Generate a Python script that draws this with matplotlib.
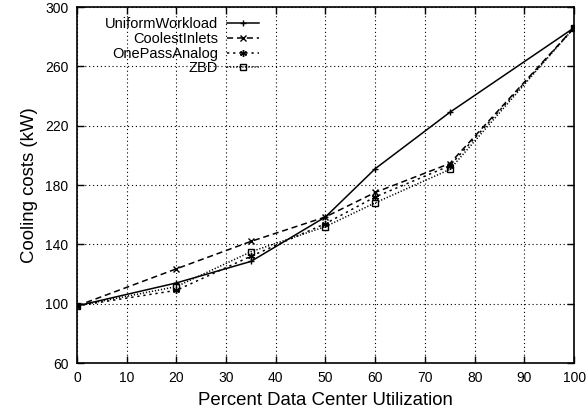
import numpy as np
import matplotlib
matplotlib.use('Agg')
import matplotlib.pyplot as plt

plt.rcParams['font.family'] = ['Liberation Sans', 'DejaVu Sans']
plt.rcParams['font.size'] = 10

# data
utilization = [0, 20, 35, 50, 60, 75, 100]
uniform_workload = [98.5, 114, 128.5, 158.5, 191, 229, 286]
coolest_inlets = [98.5, 123.5, 142, 158.5, 175, 194.5, 286]
one_pass_analog = [98.5, 109, 132, 154, 172, 193, 286]
zbd = [98.5, 111.5, 135, 152, 168, 190.5, 286]

series = [
    ('UniformWorkload', uniform_workload, '-', '+', 'full'),
    ('CoolestInlets', coolest_inlets, (0, (4, 2.5)), 'x', 'full'),
    ('OnePassAnalog', one_pass_analog, (0, (1.5, 2.5)), (6, 2, 0), 'full'),
    ('ZBD', zbd, (0, (0.8, 1.2)), 's', 'none'),
]

fig = plt.figure(figsize=(5.87, 4.13), dpi=100)
ax = fig.add_axes([0.131, 0.121, 0.847, 0.862])

for name, vals, ls, mk, fs in series:
    ax.plot(utilization, vals, color='black', linestyle=ls, linewidth=1.1,
            marker=mk, markersize=5, markeredgewidth=1.0, fillstyle=fs,
            label=name)

ax.set_xlim(0, 100)
ax.set_ylim(60, 300)
ax.set_xticks(np.arange(0, 101, 10))
ax.set_yticks(np.arange(60, 301, 40))
ax.tick_params(direction='in', top=True, right=True, length=5, width=1,
               labelsize=10, pad=6)
for s in ax.spines.values():
    s.set_linewidth(1.2)
ax.grid(True, linestyle=(0, (1, 2.5)), color='black', linewidth=0.8)

ax.set_xlabel('Percent Data Center Utilization', fontsize=13.4, labelpad=5)
ax.set_ylabel('Cooling costs (kW)', fontsize=13.4, labelpad=5)

leg = ax.legend(loc='upper left', bbox_to_anchor=(0.035, 1.0), frameon=False,
                markerfirst=False, handlelength=2.2, handletextpad=0.6,
                labelspacing=0.05, fontsize=10.5, borderaxespad=0.3)

fig.savefig('out.png', dpi=100, facecolor='white')
